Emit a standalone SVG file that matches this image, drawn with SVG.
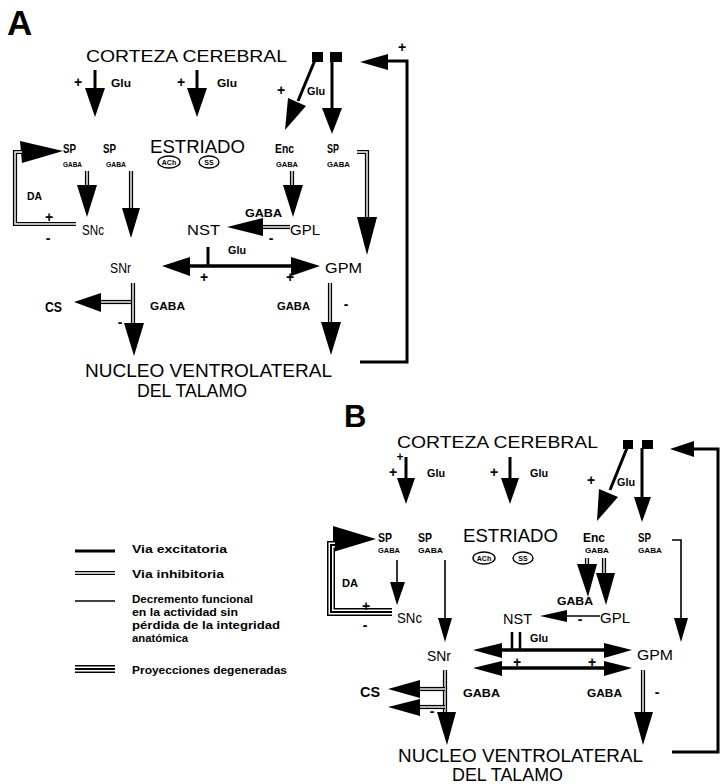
<svg xmlns="http://www.w3.org/2000/svg" width="720" height="784" viewBox="0 0 720 784">
<style>
text{font-family:"Liberation Sans",Arial,Helvetica,sans-serif;fill:#000}
.b{font-weight:bold}
.big{font-size:17px}
.es{font-size:18px}
.lg{font-size:18px}
.md{font-size:15px}
.sp{font-size:12px;font-weight:bold}
.gb{font-size:7px;font-weight:bold}
.lab{font-size:11px;font-weight:bold}
.pl{font-size:14px;font-weight:bold}
.leg{font-size:11px;font-weight:bold}
.exc{stroke:#000;stroke-width:3;fill:none}
.ib{stroke:#000;stroke-width:4.2;fill:none}
.iw{stroke:#fff;stroke-width:1.4;fill:none}
.th{stroke:#000;stroke-width:1.6;fill:none}
.d1{stroke:#000;stroke-width:8;fill:none}
.d2{stroke:#fff;stroke-width:5;fill:none}
.d3{stroke:#000;stroke-width:2;fill:none}
.ah{fill:#000;stroke:none}
.ell{fill:#fff;stroke:#000;stroke-width:1.4}
</style>
<rect width="720" height="784" fill="#fff"/>

<!-- ================= PANEL A ================= -->
<g id="labelA"><text x="7" y="35" class="b" font-size="35">A</text></g>
<g id="cortexA"><text x="86" y="62" class="big" textLength="201" lengthAdjust="spacingAndGlyphs">CORTEZA  CEREBRAL</text>
<rect x="312" y="52" width="11" height="10" fill="#000"/><rect x="330" y="52" width="12" height="10" fill="#000"/></g>
<g id="spA1"><text x="63" y="153" class="sp" textLength="13" lengthAdjust="spacingAndGlyphs">SP</text><text x="63" y="167" class="gb" textLength="19" lengthAdjust="spacingAndGlyphs">GABA</text></g>
<g id="spA2"><text x="103" y="153" class="sp" textLength="13" lengthAdjust="spacingAndGlyphs">SP</text><text x="106" y="167" class="gb" textLength="20" lengthAdjust="spacingAndGlyphs">GABA</text></g>
<g id="estriadoA"><text x="150" y="153" class="es" textLength="95" lengthAdjust="spacingAndGlyphs">ESTRIADO</text>
<ellipse cx="169" cy="162" rx="11" ry="6" class="ell"/><text x="169" y="164.5" class="gb" text-anchor="middle">ACh</text>
<ellipse cx="209" cy="162" rx="10" ry="6" class="ell"/><text x="209" y="164.5" class="gb" text-anchor="middle">SS</text></g>
<g id="encA"><text x="275" y="153" class="sp" textLength="19" lengthAdjust="spacingAndGlyphs">Enc</text><text x="276" y="167" class="gb" textLength="22" lengthAdjust="spacingAndGlyphs">GABA</text></g>
<g id="spA3"><text x="327" y="153" class="sp" textLength="12" lengthAdjust="spacingAndGlyphs">SP</text><text x="327" y="167" class="gb" textLength="23" lengthAdjust="spacingAndGlyphs">GABA</text></g>
<g id="sncA"><text x="82" y="235" class="md" textLength="22" lengthAdjust="spacingAndGlyphs">SNc</text></g>
<g id="nstA"><text x="187" y="235" class="md" textLength="33" lengthAdjust="spacingAndGlyphs">NST</text></g>
<g id="gplA"><text x="290" y="235" class="md" textLength="30" lengthAdjust="spacingAndGlyphs">GPL</text></g>
<g id="snrA"><text x="110" y="273" class="md" textLength="21" lengthAdjust="spacingAndGlyphs">SNr</text></g>
<g id="gpmA"><text x="325" y="273" class="md" textLength="37" lengthAdjust="spacingAndGlyphs">GPM</text></g>
<g id="csA"><text x="45" y="312" class="pl" textLength="17" lengthAdjust="spacingAndGlyphs">CS</text></g>
<g id="talamoA"><text x="85" y="377" class="lg" textLength="247" lengthAdjust="spacingAndGlyphs">NUCLEO VENTROLATERAL</text>
<text x="137" y="397" class="lg" textLength="110" lengthAdjust="spacingAndGlyphs">DEL  TALAMO</text></g>

<g id="connectorsA">
 <line x1="95" y1="70" x2="95" y2="90" class="exc"/><polygon points="85,88 105,88 95,117" class="ah"/>
 <line x1="197" y1="70" x2="197" y2="90" class="exc"/><polygon points="187,88 207,88 197,117" class="ah"/>
 <line x1="315" y1="60" x2="298" y2="101" class="exc"/><polygon points="306,106 288,98 285,130" class="ah"/>
 <line x1="332" y1="60" x2="332" y2="110" class="exc"/><polygon points="322,108 342,108 332,134" class="ah"/>
 <path d="M360,362 H407 V61 H386" class="exc"/><polygon points="360,62 388,54 388,70" class="ah"/>
 <polygon points="20,141 63,151 22,163" class="ah"/>
 <path d="M22,152 H15 V224 H76" class="ib"/><path d="M22,152 H15 V224 H76" class="iw"/>
 <path d="M87,171 V187" class="ib"/><path d="M87,171 V187" class="iw"/><polygon points="77,185 97,185 87,217" class="ah"/>
 <path d="M131,171 V210" class="ib"/><path d="M131,171 V210" class="iw"/><polygon points="122,208 140,208 131,238" class="ah"/>
 <path d="M292,171 V187" class="ib"/><path d="M292,171 V187" class="iw"/><polygon points="283,185 303,185 293,217" class="ah"/>
 <path d="M357,152 H367 V219" class="ib"/><path d="M357,152 H367 V219" class="iw"/><polygon points="357,217 377,217 367,255" class="ah"/>
 <path d="M290,227 H261" class="ib"/><path d="M290,227 H261" class="iw"/><polygon points="227,227 263,218 263,236" class="ah"/>
 <line x1="188" y1="266" x2="293" y2="266" stroke="#000" stroke-width="3.5"/>
 <line x1="208" y1="247" x2="208" y2="266" stroke="#000" stroke-width="3"/>
 <polygon points="162,266 190,257 190,276" class="ah"/><polygon points="320,266 291,257 291,276" class="ah"/>
 <path d="M133,283 V325" class="ib"/><path d="M133,283 V325" class="iw"/><polygon points="124,323 144,323 134,356" class="ah"/>
 <path d="M131,302 H99" class="ib"/><path d="M131,302 H99" class="iw"/><polygon points="74,302 101,293 101,312" class="ah"/>
 <path d="M330,283 V324" class="ib"/><path d="M330,283 V324" class="iw"/><polygon points="321,322 341,322 331,355" class="ah"/>
</g>
<g id="signsA" class="lab">
 <text x="78" y="87" class="pl" text-anchor="middle">+</text><text x="111" y="87" textLength="20" lengthAdjust="spacingAndGlyphs">Glu</text>
 <text x="181" y="87" class="pl" text-anchor="middle">+</text><text x="217" y="87" textLength="20" lengthAdjust="spacingAndGlyphs">Glu</text>
 <text x="281" y="95" class="pl" text-anchor="middle">+</text><text x="307" y="95" textLength="18" lengthAdjust="spacingAndGlyphs">Glu</text>
 <text x="402" y="52" class="pl" text-anchor="middle">+</text>
 <text x="27" y="200" textLength="15" lengthAdjust="spacingAndGlyphs">DA</text>
 <text x="49" y="222" class="pl" text-anchor="middle">+</text>
 <text x="48" y="243" class="pl" text-anchor="middle">-</text>
 <text x="245" y="217" textLength="37" lengthAdjust="spacingAndGlyphs">GABA</text>
 <text x="271" y="243" class="pl" text-anchor="middle">-</text>
 <text x="228" y="254" font-size="10" textLength="18" lengthAdjust="spacingAndGlyphs">Glu</text>
 <text x="204" y="282" class="pl" text-anchor="middle">+</text>
 <text x="290" y="282" class="pl" text-anchor="middle">+</text>
 <text x="150" y="310" textLength="35" lengthAdjust="spacingAndGlyphs">GABA</text>
 <text x="277" y="310" textLength="33" lengthAdjust="spacingAndGlyphs">GABA</text>
 <text x="120" y="327" class="pl" text-anchor="middle">-</text>
 <text x="346" y="309" class="pl" text-anchor="middle">-</text>
</g>

<!-- ================= LEGEND ================= -->
<g id="legend">
 <line x1="75" y1="551" x2="115" y2="551" class="exc"/>
 <text x="132" y="553" class="leg" textLength="95" lengthAdjust="spacingAndGlyphs">Via  excitatoria</text>
 <line x1="75" y1="573" x2="115" y2="573" class="ib"/><line x1="75" y1="573" x2="115" y2="573" class="iw"/>
 <text x="132" y="578" class="leg" textLength="92" lengthAdjust="spacingAndGlyphs">Via  inhibitoria</text>
 <line x1="75" y1="601" x2="115" y2="601" class="th"/>
 <text x="132" y="603" class="leg" textLength="121" lengthAdjust="spacingAndGlyphs">Decremento  funcional</text>
 <text x="132" y="616" class="leg" textLength="106" lengthAdjust="spacingAndGlyphs">en la actividad sin</text>
 <text x="132" y="629" class="leg" textLength="148" lengthAdjust="spacingAndGlyphs">pérdida de la integridad</text>
 <text x="132" y="642" class="leg" textLength="56" lengthAdjust="spacingAndGlyphs">anatómica</text>
 <line x1="75" y1="669" x2="115" y2="669" class="d1"/><line x1="75" y1="669" x2="115" y2="669" class="d2"/><line x1="75" y1="669" x2="115" y2="669" class="d3"/>
 <text x="132" y="674" class="leg" textLength="155" lengthAdjust="spacingAndGlyphs">Proyecciones   degeneradas</text>
</g>

<!-- ================= PANEL B ================= -->
<g id="labelB"><text x="344" y="427" class="b" font-size="31">B</text></g>
<g id="cortexB"><text x="397" y="448" class="big" textLength="201" lengthAdjust="spacingAndGlyphs">CORTEZA  CEREBRAL</text>
<rect x="623" y="440" width="10" height="9" fill="#000"/><rect x="642" y="440" width="11" height="9" fill="#000"/></g>
<g id="spB1"><text x="378" y="542" class="sp" textLength="14" lengthAdjust="spacingAndGlyphs">SP</text><text x="378" y="553" class="gb" textLength="22" lengthAdjust="spacingAndGlyphs">GABA</text></g>
<g id="spB2"><text x="418" y="542" class="sp" textLength="14" lengthAdjust="spacingAndGlyphs">SP</text><text x="418" y="553" class="gb" textLength="25" lengthAdjust="spacingAndGlyphs">GABA</text></g>
<g id="estriadoB"><text x="463" y="542" class="es" textLength="95" lengthAdjust="spacingAndGlyphs">ESTRIADO</text>
<ellipse cx="484" cy="558" rx="11" ry="6" class="ell"/><text x="484" y="560.5" class="gb" text-anchor="middle">ACh</text>
<ellipse cx="523" cy="558" rx="10" ry="6" class="ell"/><text x="523" y="560.5" class="gb" text-anchor="middle">SS</text></g>
<g id="encB"><text x="583" y="542" class="sp" textLength="22" lengthAdjust="spacingAndGlyphs">Enc</text><text x="585" y="553" class="gb" textLength="24" lengthAdjust="spacingAndGlyphs">GABA</text></g>
<g id="spB3"><text x="638" y="542" class="sp" textLength="13" lengthAdjust="spacingAndGlyphs">SP</text><text x="638" y="553" class="gb" textLength="24" lengthAdjust="spacingAndGlyphs">GABA</text></g>
<g id="sncB"><text x="397" y="623" class="md" textLength="25" lengthAdjust="spacingAndGlyphs">SNc</text></g>
<g id="nstB"><text x="503" y="624" class="md" textLength="29" lengthAdjust="spacingAndGlyphs">NST</text></g>
<g id="gplB"><text x="600" y="623" class="md" textLength="30" lengthAdjust="spacingAndGlyphs">GPL</text></g>
<g id="snrB"><text x="427" y="661" class="md" textLength="24" lengthAdjust="spacingAndGlyphs">SNr</text></g>
<g id="gpmB"><text x="637" y="660" class="md" textLength="36" lengthAdjust="spacingAndGlyphs">GPM</text></g>
<g id="csB"><text x="360" y="697" class="pl" textLength="20" lengthAdjust="spacingAndGlyphs">CS</text></g>
<g id="talamoB"><text x="398" y="762" class="lg" textLength="245" lengthAdjust="spacingAndGlyphs">NUCLEO VENTROLATERAL</text>
<text x="452" y="781" class="lg" textLength="111" lengthAdjust="spacingAndGlyphs">DEL  TALAMO</text></g>

<g id="connectorsB">
 <line x1="406" y1="457" x2="406" y2="480" class="exc"/><polygon points="397,478 415,478 406,504" class="ah"/>
 <line x1="510" y1="457" x2="510" y2="480" class="exc"/><polygon points="501,478 519,478 510,504" class="ah"/>
 <line x1="627" y1="448" x2="610" y2="490" class="exc"/><polygon points="618,497 599,489 597,521" class="ah"/>
 <line x1="642" y1="448" x2="642" y2="499" class="exc"/><polygon points="634,497 651,497 642,522" class="ah"/>
 <path d="M672,752 H718 V449 H692" class="exc"/><polygon points="670,449 694,441 694,457" class="ah"/>
 <polygon points="333,526 376,539 333,552" class="ah"/>
 <path d="M335,545 H331 V612 H392" class="d1"/><path d="M335,545 H331 V612 H392" class="d2"/><path d="M335,545 H331 V612 H392" class="d3"/>
 <line x1="397" y1="560" x2="397" y2="584" class="th"/><polygon points="390,582 405,582 397,605" class="ah"/>
 <line x1="445" y1="560" x2="445" y2="620" class="th"/><polygon points="438,618 452,618 445,642" class="ah"/>
 <path d="M672,540 H681 V620" class="th"/><polygon points="674,618 688,618 681,642" class="ah"/>
 <line x1="600" y1="616" x2="565" y2="616" class="th"/><polygon points="540,616 567,610 567,622" class="ah"/>
 <path d="M587,558 V566" class="ib"/><path d="M587,558 V566" class="iw"/><polygon points="577,564 597,564 588,597" class="ah"/>
 <path d="M604,558 V575" class="ib"/><path d="M604,558 V575" class="iw"/><polygon points="596,573 615,573 606,605" class="ah"/>
 <line x1="500" y1="650" x2="606" y2="650" stroke="#000" stroke-width="3.5"/>
 <line x1="500" y1="668" x2="606" y2="668" stroke="#000" stroke-width="3.5"/>
 <line x1="512" y1="632" x2="512" y2="650" stroke="#000" stroke-width="2.5"/>
 <line x1="520" y1="632" x2="520" y2="650" stroke="#000" stroke-width="2.5"/>
 <polygon points="473,650 502,643 502,658" class="ah"/><polygon points="632,650 604,643 604,658" class="ah"/>
 <polygon points="473,668 502,661 502,676" class="ah"/><polygon points="632,668 604,661 604,676" class="ah"/>
 <path d="M445,670 V714" class="ib"/><path d="M445,670 V714" class="iw"/><polygon points="437,712 456,712 447,745" class="ah"/>
 <path d="M445,689 H418" class="ib"/><path d="M445,689 H418" class="iw"/><polygon points="388,689 420,680 420,698" class="ah"/>
 <path d="M445,707 H418" class="ib"/><path d="M445,707 H418" class="iw"/><polygon points="388,707 420,699 420,716" class="ah"/>
 <path d="M643,670 V714" class="ib"/><path d="M643,670 V714" class="iw"/><polygon points="634,712 653,712 643,745" class="ah"/>
</g>
<g id="signsB" class="lab">
 <text x="400" y="461" font-size="12" text-anchor="middle">+</text>
 <text x="393" y="477" class="pl" text-anchor="middle">+</text><text x="427" y="477" textLength="18" lengthAdjust="spacingAndGlyphs">Glu</text>
 <text x="494" y="477" class="pl" text-anchor="middle">+</text><text x="530" y="477" textLength="18" lengthAdjust="spacingAndGlyphs">Glu</text>
 <text x="591" y="485" class="pl" text-anchor="middle">+</text><text x="617" y="486" textLength="18" lengthAdjust="spacingAndGlyphs">Glu</text>
 <text x="342" y="587" textLength="16" lengthAdjust="spacingAndGlyphs">DA</text>
 <text x="366" y="611" class="pl" text-anchor="middle">+</text>
 <text x="365" y="630" class="pl" text-anchor="middle">-</text>
 <text x="557" y="605" textLength="36" lengthAdjust="spacingAndGlyphs">GABA</text>
 <text x="580" y="624" class="pl" text-anchor="middle">-</text>
 <text x="530" y="642" font-size="10" textLength="18" lengthAdjust="spacingAndGlyphs">Glu</text>
 <text x="517" y="667" class="pl" text-anchor="middle">+</text>
 <text x="592" y="667" class="pl" text-anchor="middle">+</text>
 <text x="463" y="697" textLength="37" lengthAdjust="spacingAndGlyphs">GABA</text>
 <text x="587" y="697" textLength="35" lengthAdjust="spacingAndGlyphs">GABA</text>
 <text x="432" y="716" class="pl" text-anchor="middle">-</text>
 <text x="657" y="697" class="pl" text-anchor="middle">-</text>
</g>
</svg>
